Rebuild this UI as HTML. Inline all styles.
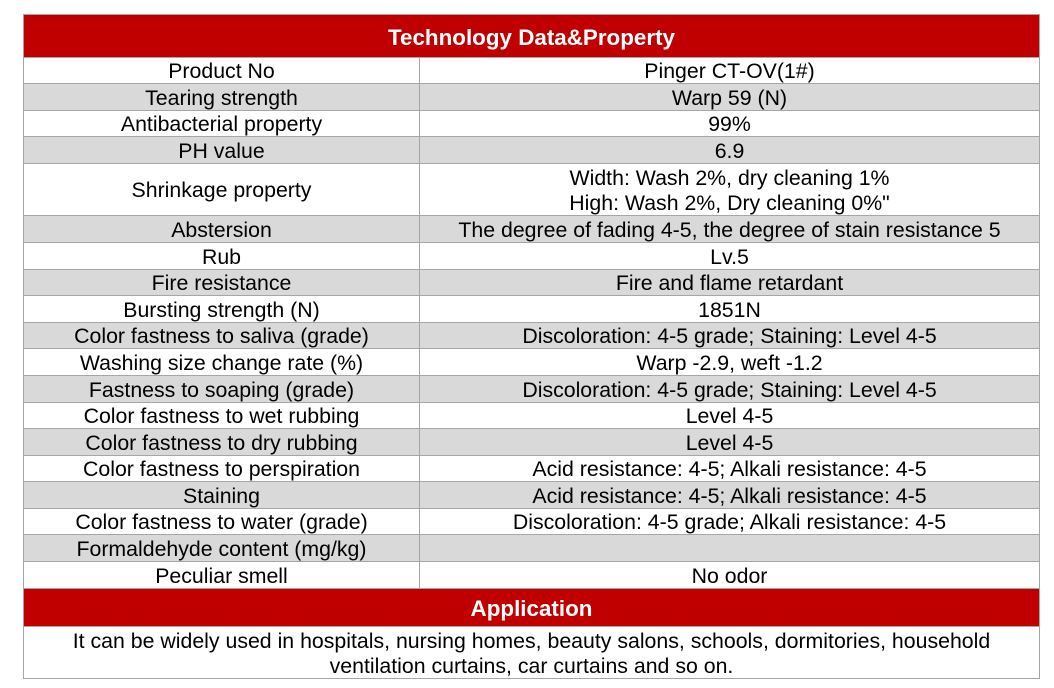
<!DOCTYPE html>
<html><head><meta charset="utf-8"><style>
body{margin:0;width:1054px;height:688px;background:#fff;position:relative;font-family:"Liberation Sans",Arial,sans-serif;overflow:hidden}
.c{position:absolute;box-sizing:border-box;border:1px solid #a6a6a6;display:flex;align-items:center;justify-content:center;text-align:center;font-size:21.3px;color:#000;line-height:25px;padding-top:2px}
.h{background:#c00000;color:#fff;font-weight:bold;font-size:22.4px}
.g{background:#d9d9d9}
</style></head><body>
<div id="t"></div>
<script>
const rows=[
["Product No","Pinger CT-OV(1#)"],["Tearing strength","Warp 59 (N)"],["Antibacterial property","99%"],["PH value","6.9"],
["Shrinkage property","Width: Wash 2%, dry cleaning 1%<br>High: Wash 2%, Dry cleaning 0%\""],
["Abstersion","The degree of fading 4-5, the degree of stain resistance 5"],["Rub","Lv.5"],["Fire resistance","Fire and flame retardant"],
["Bursting strength (N)","1851N"],["Color fastness to saliva (grade)","Discoloration: 4-5 grade; Staining: Level 4-5"],
["Washing size change rate (%)","Warp -2.9, weft -1.2"],["Fastness to soaping (grade)","Discoloration: 4-5 grade; Staining: Level 4-5"],
["Color fastness to wet rubbing","Level 4-5"],["Color fastness to dry rubbing","Level 4-5"],
["Color fastness to perspiration","Acid resistance: 4-5; Alkali resistance: 4-5"],["Staining","Acid resistance: 4-5; Alkali resistance: 4-5"],
["Color fastness to water (grade)","Discoloration: 4-5 grade; Alkali resistance: 4-5"],["Formaldehyde content (mg/kg)",""],["Peculiar smell","No odor"]];
const ys=[57,83,110,136,163,215,242,269,295,322,348,375,402,428,455,481,508,534,561,588];
const L=23,R=1040,M=419;
let h='<div class="c h" style="left:'+L+'px;top:14px;width:'+(R-L)+'px;height:44px">Technology Data&amp;Property</div>';
rows.forEach((r,i)=>{const y=ys[i],hh=ys[i+1]-y+1;
const gg=([1,3,5,7,9,11,13,15,17].includes(i))?' g':'';
h+='<div class="c'+gg+'" style="left:'+L+'px;top:'+y+'px;width:'+(M-L+1)+'px;height:'+hh+'px">'+r[0]+'</div>';
h+='<div class="c'+gg+'" style="left:'+M+'px;top:'+y+'px;width:'+(R-M)+'px;height:'+hh+'px">'+r[1]+'</div>';});
h+='<div class="c h" style="left:'+L+'px;top:588px;width:'+(R-L)+'px;height:39px">Application</div>';
h+='<div class="c" style="left:'+L+'px;top:626px;width:'+(R-L)+'px;height:53px;line-height:25px">It can be widely used in hospitals, nursing homes, beauty salons, schools, dormitories, household<br>ventilation curtains, car curtains and so on.</div>';
document.getElementById('t').innerHTML=h;
</script>
</body></html>
